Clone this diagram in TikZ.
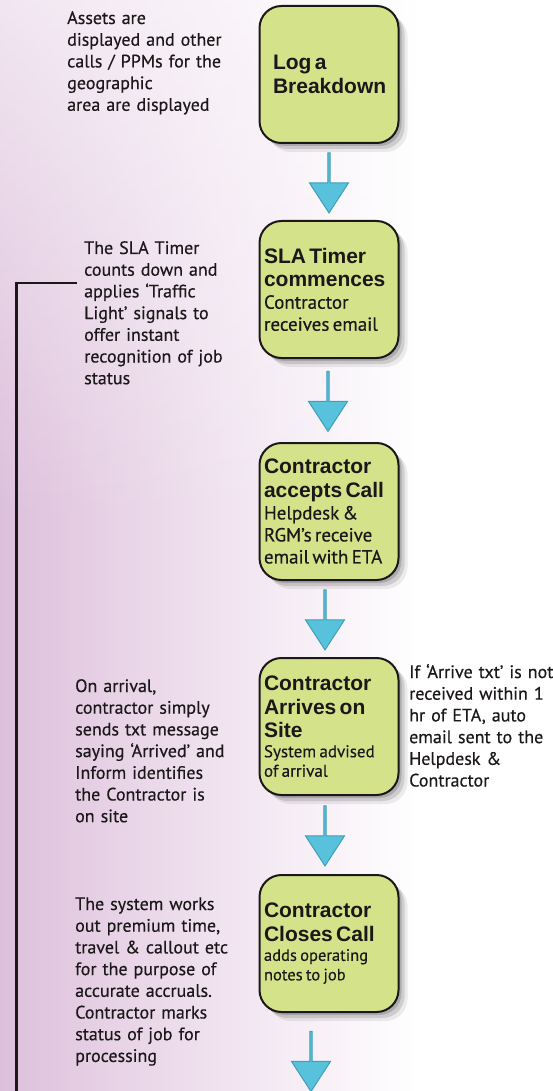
\documentclass[tikz,border=0pt]{standalone}
\usepackage{fontspec}
\usepackage{tikz}
\usetikzlibrary{positioning,shapes.arrows,shadows,fadings}
\newfontfamily\notefont[FakeBold=0.4]{PT Sans}
\newfontfamily\headfont{Liberation Sans}
\definecolor{boxgreen}{RGB}{212,226,138}
\definecolor{ink}{RGB}{28,24,26}
\definecolor{bgpink}{RGB}{221,192,220}
\definecolor{bgmid}{RGB}{239,224,238}
\definecolor{arrowdark}{RGB}{88,194,220}
\definecolor{arrowlight}{RGB}{175,230,242}
\definecolor{arrowedge}{RGB}{64,158,184}
\tikzstyle{stagebox}=[draw=ink,%
                      fill=boxgreen,%
                      line width=2pt,%
                      rounded corners=22pt,%
                      minimum width=139pt,%
                      minimum height=137pt,%
                      text width=130pt,%
                      inner xsep=4.5pt,%
                      align=left,%
                      text=ink,%
                      drop shadow={shadow xshift=9pt,shadow yshift=-9pt,opacity=.07,fill=black},%
                      drop shadow={shadow xshift=6pt,shadow yshift=-6pt,opacity=.12,fill=black},%
                      drop shadow={shadow xshift=3pt,shadow yshift=-3pt,opacity=.25,fill=black!70}]
\tikzstyle{downarrow}=[single arrow,%
                       rotate=-90,%
                       draw=arrowedge,%
                       line width=1pt,%
                       top color=arrowdark,%
                       middle color=arrowlight,%
                       bottom color=arrowdark,%
                       minimum height=60pt,%
                       minimum width=39pt,%
                       single arrow head extend=7.5pt,%
                       single arrow tip angle=66,%
                       inner sep=0pt]
\tikzstyle{note}=[anchor=base west,%
                  align=left,%
                  text width=175pt,%
                  inner sep=0pt,%
                  text=ink,%
                  font=\notefont\fontsize{18}{21.7}\selectfont]
\newcommand{\stagehead}[1]{{\headfont\bfseries\fontsize{21}{23.5}\selectfont #1\par}}
\newcommand{\stagesub}[2][19]{{\notefont\fontsize{#1}{22}\selectfont #2\par}}
\newcommand{\stagesubs}[2][17]{{\notefont\fontsize{#1}{19.5}\selectfont #2\par}}

\begin{document}
\begin{tikzpicture}[x=1pt,y=-1pt]
  \useasboundingbox (0,0) rectangle (552,1091);
  % background
  \shade[left color=bgpink, right color=bgmid] (0,0) rectangle (200,1091);
  \shade[left color=bgmid, right color=white] (200,0) rectangle (420,1091);
  \fill[white, path fading=south, opacity=.6] (0,0) rectangle (420,520);

  % the stages
  \node[stagebox] (log) at (329,74.5) {\stagehead{\leftskip=9pt Log a\\Breakdown}};
  \node[stagebox][below=76pt of log] (sla) {\stagehead{SLA Timer\\commences}\stagesub{Contractor\\receives email}};
  \node[stagebox][below=83pt of sla] (acc) {\stagehead{Contractor\\accepts Call}\stagesub{Helpdesk \&\\RGM’s receive\\email with ETA}};
  \node[stagebox][below=76pt of acc] (arr) {\stagehead{Contractor\\Arrives on\\Site}\stagesubs{System advised\\of arrival}};
  \node[stagebox][below=78pt of arr] (cls) {\stagehead{Contractor\\Closes Call}\stagesubs[16.5]{adds operating\\notes to job}};
  \coordinate[below=95pt of cls.south] (tail);

  % arrows between stages
  \path (log.south) -- node[downarrow]{} (sla.north);
  \path (sla.south) -- node[xshift=-1pt,downarrow]{} (acc.north);
  \path (acc.south) -- node[xshift=-4pt,downarrow]{} (arr.north);
  \path (arr.south) -- node[xshift=-4pt,downarrow]{} (cls.north);
  \path (cls.south) -- node[xshift=-18pt,downarrow]{} (tail);

  % side notes
  \node[note] (n1) at (67,24) {Assets are\\displayed and other\\calls / PPMs for the\\geographic\\area are displayed};
  \node[note] (n2) at (84,254) {The SLA Timer\\counts down and\\applies ‘Traffic\\Light’ signals to\\offer instant\\recognition of job\\status};
  \node[note] (n3) at (75,692) {On arrival,\\contractor simply\\sends txt message\\saying ‘Arrived’ and\\Inform identifies\\the Contractor is\\on site};
  \node[note] (n4) at (409,678) {If ‘Arrive txt’ is not\\received within 1\\hr of ETA, auto\\email sent to the\\Helpdesk \&\\Contractor};
  \node[note] (n5) at (75,910) {The system works\\out premium time,\\travel \& callout etc\\for the purpose of\\accurate accruals.\\Contractor marks\\status of job for\\processing};

  % bracket
  \coordinate (brk) at (77,283);
  \coordinate (foot) at (16.5,1100);
  \draw[ink, line width=2.8pt] (foot) |- (brk);
\end{tikzpicture}
\end{document}
